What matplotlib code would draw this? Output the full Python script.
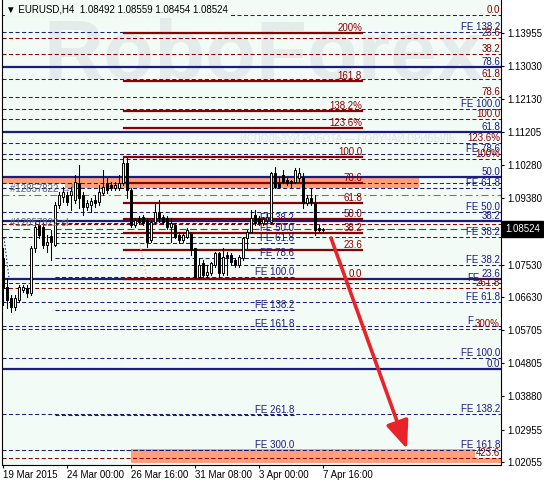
import matplotlib
matplotlib.use("Agg")
import matplotlib.pyplot as plt
from matplotlib.patches import Rectangle, FancyArrowPatch
import numpy as np

plt.rcParams['font.family'] = ['Liberation Sans', 'DejaVu Sans']
plt.rcParams['lines.scale_dashes'] = False

# -------------------------
#  DADOS
# -------------------------
opens = [1.0771, 1.0691, 1.0660, 1.0635, 1.0655, 1.0683, 1.0688, 1.0674, 1.0799, 1.0863,
         1.0857, 1.0807, 1.0832, 1.0807, 1.0918, 1.0941, 1.0946, 1.0946, 1.0932, 1.0979,
         1.0946, 1.0913, 1.0918, 1.0932, 1.0927, 1.0952, 1.0979, 1.0974, 1.0966, 1.0966,
         1.0979, 1.1035, 1.0960, 1.0863, 1.0882, 1.0885, 1.0877, 1.0821, 1.0871, 1.0899,
         1.0885, 1.0882, 1.0857, 1.0863, 1.0835, 1.0821, 1.0830, 1.0841, 1.0799, 1.0719,
         1.0757, 1.0724, 1.0730, 1.0752, 1.0785, 1.0730, 1.0780, 1.0780, 1.0766, 1.0752,
         1.0771, 1.0827, 1.0843, 1.0891, 1.0882, 1.0868, 1.0877, 1.0871, 1.1007, 1.0979,
         1.1002, 1.0988, 1.0985, 1.0982, 1.0993, 1.0996, 1.0924, 1.0938, 1.0924, 1.0855,
         1.08492]
highs = [1.0799, 1.0716, 1.0669, 1.0669, 1.0696, 1.0696, 1.0696, 1.0805, 1.0871, 1.0877,
         1.0868, 1.0835, 1.0849, 1.0927, 1.0954, 1.0968, 1.0954, 1.0968, 1.1002, 1.1029,
         1.0954, 1.0932, 1.0938, 1.0946, 1.0974, 1.1015, 1.0993, 1.0982, 1.0982, 1.1002,
         1.1049, 1.1049, 1.0966, 1.0882, 1.0888, 1.0891, 1.0882, 1.0877, 1.0927, 1.0932,
         1.0891, 1.0888, 1.0882, 1.0868, 1.0843, 1.0841, 1.0855, 1.0843, 1.0799, 1.0771,
         1.0766, 1.0752, 1.0760, 1.0788, 1.0788, 1.0799, 1.0788, 1.0785, 1.0771, 1.0780,
         1.0830, 1.0849, 1.0904, 1.0904, 1.0888, 1.0885, 1.0893, 1.1010, 1.1024, 1.0996,
         1.1015, 1.0993, 1.0988, 1.1021, 1.1021, 1.1007, 1.0946, 1.0966, 1.0946, 1.0863,
         1.08559]
lows = [1.0641, 1.0633, 1.0622, 1.0627, 1.0649, 1.0677, 1.0663, 1.0669, 1.0788, 1.0827,
        1.0799, 1.0788, 1.0766, 1.0805, 1.0910, 1.0927, 1.0918, 1.0904, 1.0924, 1.0910,
        1.0891, 1.0904, 1.0899, 1.0913, 1.0918, 1.0946, 1.0952, 1.0960, 1.0960, 1.0960,
        1.0974, 1.0938, 1.0857, 1.0857, 1.0866, 1.0863, 1.0802, 1.0816, 1.0866, 1.0871,
        1.0866, 1.0852, 1.0816, 1.0827, 1.0813, 1.0816, 1.0827, 1.0780, 1.0716, 1.0713,
        1.0719, 1.0719, 1.0724, 1.0746, 1.0719, 1.0724, 1.0724, 1.0752, 1.0746, 1.0746,
        1.0766, 1.0799, 1.0843, 1.0863, 1.0863, 1.0863, 1.0871, 1.0866, 1.0966, 1.0966,
        1.0979, 1.0974, 1.0968, 1.0979, 1.0982, 1.0910, 1.0918, 1.0918, 1.0835, 1.0843,
        1.08454]
closes = [1.0688, 1.0655, 1.0635, 1.0660, 1.0691, 1.0691, 1.0674, 1.0799, 1.0857, 1.0835,
          1.0807, 1.0816, 1.0816, 1.0918, 1.0946, 1.0954, 1.0927, 1.0957, 1.0982, 1.0938,
          1.0913, 1.0924, 1.0929, 1.0924, 1.0954, 1.0968, 1.0960, 1.0966, 1.0974, 1.0979,
          1.1035, 1.0960, 1.0863, 1.0877, 1.0871, 1.0868, 1.0816, 1.0871, 1.0899, 1.0882,
          1.0871, 1.0857, 1.0868, 1.0830, 1.0821, 1.0835, 1.0849, 1.0794, 1.0719, 1.0752,
          1.0724, 1.0733, 1.0757, 1.0785, 1.0730, 1.0774, 1.0774, 1.0760, 1.0752, 1.0774,
          1.0827, 1.0843, 1.0882, 1.0868, 1.0868, 1.0880, 1.0885, 1.1007, 1.0968, 1.0968,
          1.0982, 1.0979, 1.0979, 1.1015, 1.1007, 1.0924, 1.0938, 1.0927, 1.0849, 1.0849,
          1.08524]

date_ticks = [0, 16, 32, 48, 64, 80]
date_labels = ["19 Mar 2015", "24 Mar 00:00", "26 Mar 16:00", "31 Mar 08:00", "3 Apr 00:00", "7 Apr 16:00"]
price_ticks = [1.13955, 1.13030, 1.12130, 1.11205, 1.10280, 1.09380, 1.07530,
               1.06630, 1.05705, 1.04805, 1.03880, 1.02955, 1.02055]
last_price = 1.08524
header = "\u25bc EURUSD,H4  1.08492 1.08559 1.08454 1.08524"

# niveis horizontais
red_dash_levels = [1.14454, 1.13816, 1.13372, 1.12679, 1.12179, 1.11569, 1.10903, 1.10459,
                   1.09794, 1.08656, 1.06881, 1.05744, 1.02165]
blue_dash_levels = [1.13982, 1.11846, 1.10598, 1.09655, 1.08989, 1.08296, 1.07519, 1.07020,
                    1.06493, 1.05827, 1.04939, 1.03386, 1.02387]
blue_solid_levels = [1.13011, 1.11208, 1.09960, 1.08739, 1.07130, 1.04634]

fe_red_levels = [1.13955, 1.12623, 1.11791, 1.11319, 1.10515, 1.09794, 1.09239, 1.08795,
                 1.08407, 1.07935, 1.07130]
fe_red_labels = ["200%", "161.8", "138.2%", "123.6%", "100.0", "78.6", "61.8", "50.0",
                 "38.2", "23.6", "0.0"]
fe_blue_levels = [1.08684, 1.08407, 1.08129, 1.07713, 1.07186, 1.06271, 1.05744, 1.03358, 1.02387]
fe_blue_labels = ["FE 38.2", "FE 50.0", "FE 61.8", "FE 78.6", "FE 100.0", "FE 138.2",
                  "FE 161.8", "FE 261.8", "FE 300.0"]

right_texts = ["0.0", "FE 138.2", "23.6", "38.2", "78.6", "61.8", "78.6", "FE 100.0", "100.0",
               "61.8", "123.6%", "FE 78.6", "100%", "50.0", "FE 61.8", "FE 50.0", "38.2",
               "FE 38.2", "FE 38.2", "23.6", "261.8", "FE 61.8", "300%", "FE 100.0", "0.0",
               "FE 138.2", "FE 161.8", "423.6"]
right_levels = [1.14454, 1.13982, 1.13816, 1.13372, 1.13011, 1.12679, 1.12179, 1.11846, 1.11569,
                1.11208, 1.10903, 1.10598, 1.10459, 1.09960, 1.09655, 1.08989, 1.08739,
                1.08296, 1.07519, 1.07130, 1.06881, 1.06493, 1.05744, 1.04939, 1.04634,
                1.03386, 1.02387, 1.02165]
right_is_red = [1, 0, 1, 1, 0, 1, 1, 0, 1, 0, 1, 0, 1, 0, 0, 0, 0, 0, 0, 0, 1, 0, 1, 0, 0, 0, 0, 1]

order_level = 1.09461      # linha laranja
bid_level = 1.08524        # linha verde
order_labels = ["#12857822 \u2192|", "#12857822 sl"]
order_label_levels = [1.09627, 1.08684]

# zonas salmao: (x0, x1, y_baixo, y_alto)
zones = [(-0.25, 104, 1.09766, 1.09932), (15.5, 104, 1.09655, 1.09794),
         (32, 118, 1.02026, 1.02415), (118, 124.5, 1.02026, 1.02165)]

arrow_start = (82, 1.08268)
arrow_end = (101, 1.02415)
trend_blue = ([0.25, 1.5], [1.0827, 1.0716])
trend_peach = ([33.75, 36.0], [1.08351, 1.07159])

# -------------------------
#  ESTILO
# -------------------------
BG = '#F3FBF7'
NAVY = '#1c1c7e'
MAROON = '#8b0000'
DASH = (0, (2.9, 1.8))
FS = 7

FE_RED_X = (30.25, 89.75)
FE_BLUE_X = (13.0, 72.75)
RIGHT_X = 124.25

fig = plt.figure(figsize=(5.44, 4.82), dpi=100)
fig.patch.set_facecolor('white')
ax = fig.add_axes([2 / 544, 17 / 482, 499 / 544, 465 / 482])
ax.set_facecolor(BG)
ax.set_xlim(-0.25, 124.5)
ax.set_ylim(1.01971, 1.14870)

# marca d'agua
ax.text(65, 1.1329, "RoboForex", ha='center', va='center', fontsize=60,
        fontweight='bold', color='#E3EBEB', zorder=0.5)
ax.text(59.25, 1.1101, "ИСПОЛЬЗУЙ РОБОТА — ПОЛУЧАЙ ПРИБЫЛЬ", ha='left', va='center',
        fontsize=7, color='#DCE5E5', zorder=0.5)

# zonas
for x0, x1, y0, y1 in zones:
    ax.add_patch(Rectangle((x0, y0), x1 - x0, y1 - y0, facecolor='#FFA07A',
                           edgecolor='none', zorder=1))

# linhas completas
for lvl in red_dash_levels:
    ax.plot([-0.25, 124.5], [lvl, lvl], color=MAROON, lw=0.75, ls=DASH, zorder=2)
for lvl in blue_dash_levels:
    ax.plot([-0.25, 124.5], [lvl, lvl], color=NAVY, lw=0.75, ls=DASH, zorder=2)
for lvl in blue_solid_levels:
    ax.plot([-0.25, 124.5], [lvl, lvl], color=NAVY, lw=1.6, zorder=2.2)

ax.plot([-0.25, 124.5], [order_level, order_level], color='#FF4500', lw=0.8,
        ls=(0, (5, 2.5, 1.5, 2.5)), zorder=2)
ax.plot([-0.25, 124.5], [bid_level, bid_level], color='#008000', lw=0.8,
        ls=(0, (5, 2.5)), zorder=2)

# expansao de fibo (vermelha)
for lvl, lbl in zip(fe_red_levels, fe_red_labels):
    ax.plot(FE_RED_X, [lvl, lvl], color=MAROON, lw=1.6, zorder=2.5)
    ax.text(FE_RED_X[1], lvl, lbl, ha='right', va='bottom', fontsize=FS,
            color=MAROON, zorder=6)

# expansao de fibo (azul)
for lvl, lbl in zip(fe_blue_levels, fe_blue_labels):
    ax.plot(FE_BLUE_X, [lvl, lvl], color=NAVY, lw=0.75, ls=DASH, zorder=2)
    ax.text(FE_BLUE_X[1], lvl, lbl, ha='right', va='bottom', fontsize=FS,
            color=NAVY, zorder=6)

# textos da direita
for txt, lvl, red in zip(right_texts, right_levels, right_is_red):
    ax.text(RIGHT_X, lvl, txt, ha='right', va='bottom', fontsize=FS,
            color=MAROON if red else NAVY, zorder=6)
ax.text(116.0, 1.07020, "FE", ha='left', va='bottom', fontsize=FS, color=NAVY, zorder=5.9)
ax.text(116.0, 1.05827, "F", ha='left', va='bottom', fontsize=FS, color=NAVY, zorder=5.9)

# ordens
for txt, lvl in zip(order_labels, order_label_levels):
    ax.text(1.75, lvl, txt, ha='left', va='center', fontsize=FS, color='#5a6678', zorder=6)

# linhas de tendencia pontilhadas
ax.plot(*trend_blue, color=NAVY, lw=0.8, ls=(0, (1, 1.5)), zorder=3)
ax.plot(*trend_peach, color='#F2C3A0', lw=1.0, ls=(0, (1, 1.5)), zorder=3)

# candles
for i in range(len(opens)):
    o, h, l, c = opens[i], highs[i], lows[i], closes[i]
    ax.plot([i, i], [l, h], color='black', lw=0.75, zorder=4)
    lo, hi = min(o, c), max(o, c)
    if hi - lo < 0.00006:
        ax.plot([i - 0.4, i + 0.4], [c, c], color='black', lw=0.9, zorder=5)
    else:
        ax.add_patch(Rectangle((i - 0.3, lo), 0.6, hi - lo,
                               facecolor='white' if c > o else 'black',
                               edgecolor='black', lw=0.7, zorder=5))

# seta vermelha
ax.add_patch(FancyArrowPatch(arrow_start, arrow_end,
                             arrowstyle='-|>,head_length=1.7,head_width=0.7',
                             mutation_scale=10, lw=2.6, color='#E8232A',
                             shrinkA=0, shrinkB=0, zorder=10))

# cabecalho
ax.text(0.008, 0.979, header, transform=ax.transAxes, ha='left', va='center',
        fontsize=FS, color='black', zorder=8,
        bbox=dict(boxstyle='square,pad=0.15', facecolor=BG, edgecolor='none'))

# eixos
for s in ['left', 'right', 'bottom']:
    ax.spines[s].set_color('black')
    ax.spines[s].set_linewidth(0.8)
ax.spines['top'].set_visible(False)

ax.yaxis.tick_right()
ax.set_yticks(price_ticks)
ax.set_yticklabels([f"{p:.5f}" for p in price_ticks])
ax.tick_params(axis='y', length=2.2, width=0.8, labelsize=FS, pad=2, colors='black')

ax.set_xticks(date_ticks)
ax.set_xticklabels(date_labels, ha='left')
ax.tick_params(axis='x', length=2.2, width=0.8, labelsize=FS, pad=1.5, colors='black')

ax.text(1.008, last_price, f"{last_price:.5f}", transform=ax.get_yaxis_transform(),
        ha='left', va='center', color='white', fontsize=FS, zorder=9, clip_on=False,
        bbox=dict(boxstyle='square,pad=0.3', facecolor='black', edgecolor='black'))

fig.savefig("out.png", dpi=100, facecolor='white')
